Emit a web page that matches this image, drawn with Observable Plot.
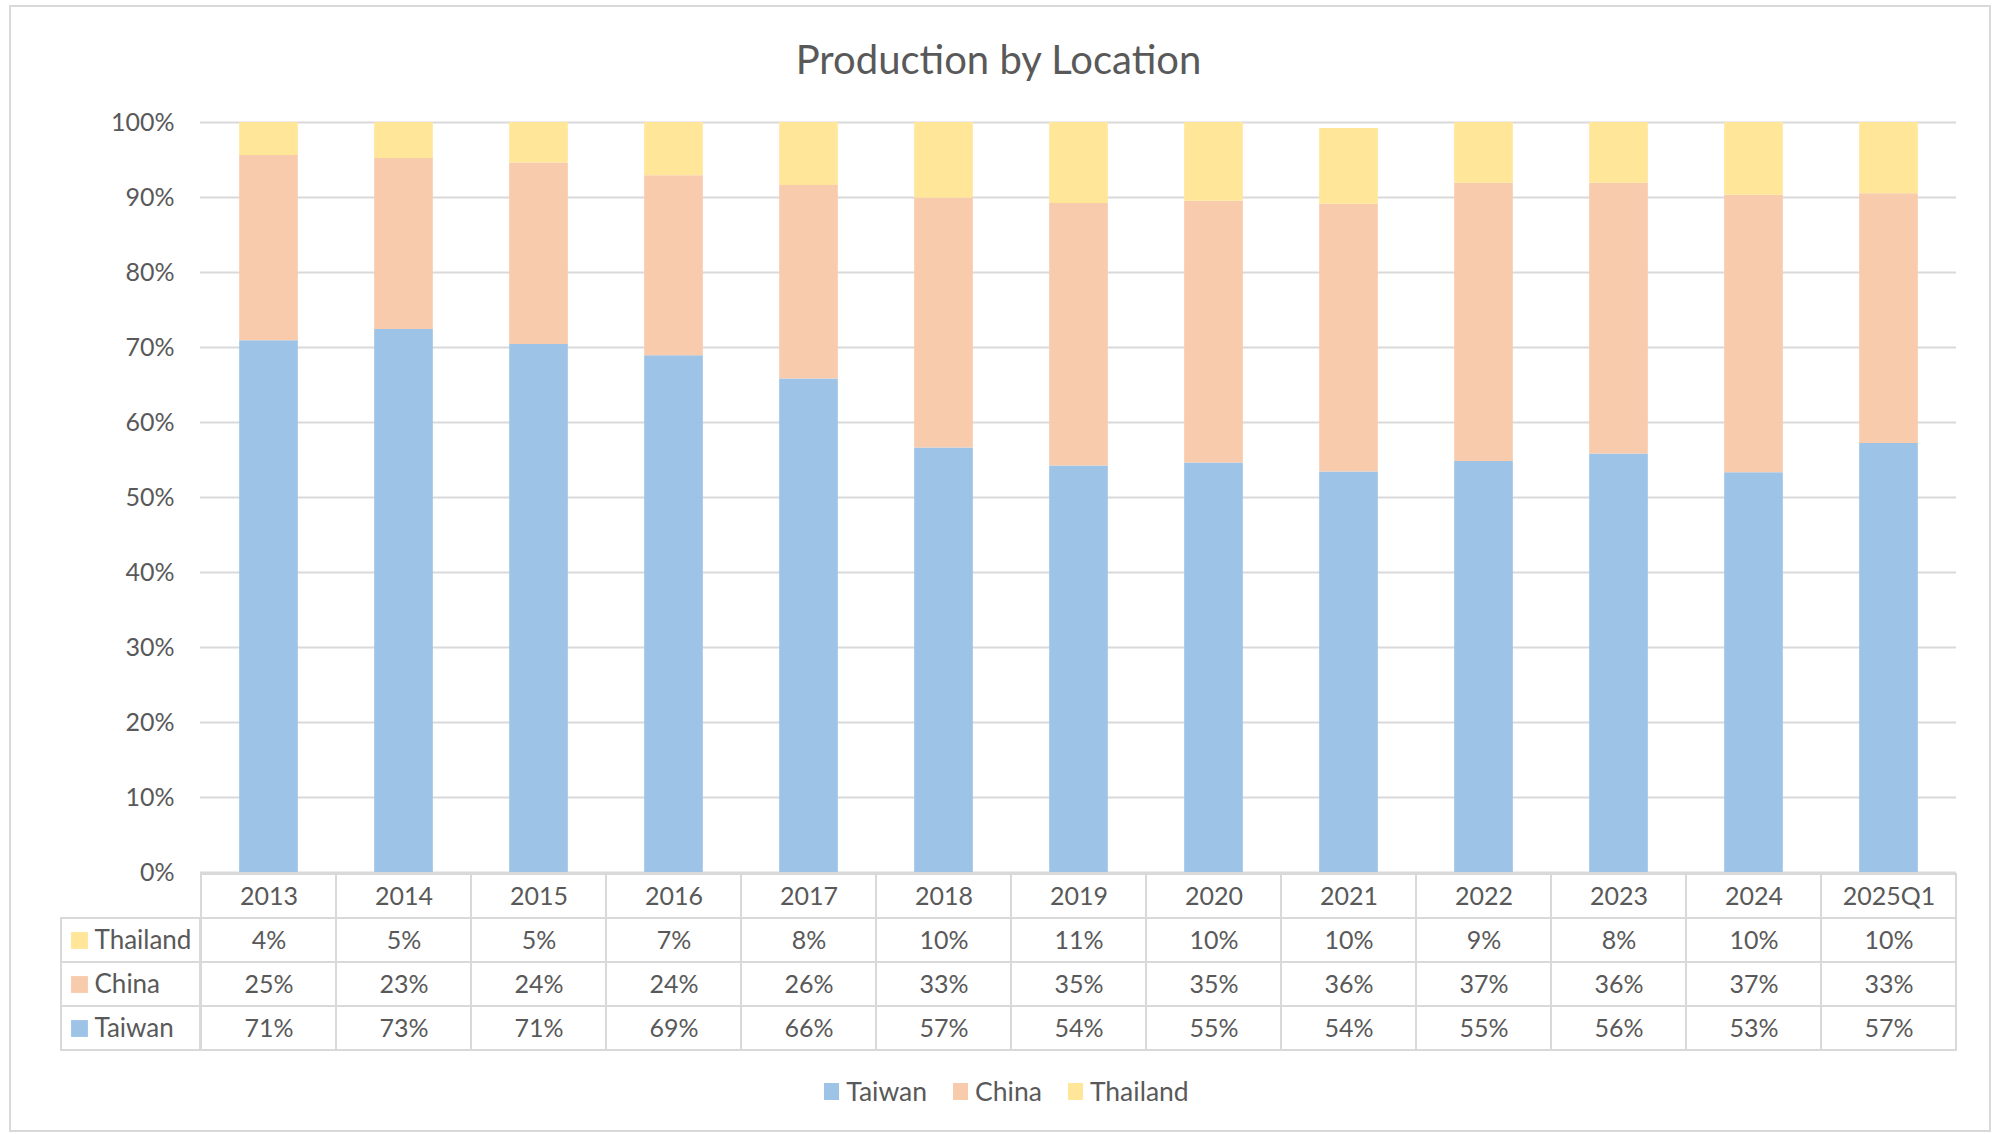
<!DOCTYPE html>
<html>
<head>
<meta charset="utf-8">
<script src="https://cdn.jsdelivr.net/npm/d3@7"></script>
<script src="https://cdn.jsdelivr.net/npm/@observablehq/plot@0.6"></script>
<style>
  html, body { margin: 0; padding: 0; background: #ffffff; }
  #chart { position: relative; width: 1997px; height: 1134px; font-family: Lato, "Open Sans", sans-serif; color: #595959; background: #fff; overflow: hidden; }
  #frame { position: absolute; left: 9px; top: 5px; width: 1982px; height: 1127px; border: 2px solid #D9D9D9; box-sizing: border-box; }
  #title { position: absolute; left: 0; top: 34px; width: 1997px; text-align: center; font-size: 40px; line-height: 50px; color: #595959; }
  .abs { position: absolute; }
  svg { overflow: visible; }
  #legend { position: absolute; left: 8px; top: 1074px; width: 1997px; display: flex; justify-content: center; align-items: center; font-size: 26.5px; line-height: 34px; color: #595959; }
  .item { display: flex; align-items: center; margin: 0 13px; }
  .sw { width: 15px; height: 17px; margin-right: 7px; display: inline-block; }
</style>
</head>
<body>
<div id="chart">
  <div id="frame"></div>
  <div id="title">Production by Location</div>
  <div id="bars" class="abs" style="left:0;top:0"></div>
  <div id="labels" class="abs" style="left:0;top:871px"></div>
  <div id="table" class="abs" style="left:0;top:871px"></div>
  <div id="legend"></div>
</div>
<script>
// ---- data ----
const categories = ["2013","2014","2015","2016","2017","2018","2019","2020","2021","2022","2023","2024","2025Q1"];
const seriesNames = ["Taiwan","China","Thailand"];
const seriesColors = ["#9DC3E6","#F8CBAD","#FFE699"];
// bar heights in percent (as drawn)
const taiwan   = [70.9, 72.4, 70.4, 68.9, 65.8, 56.6, 54.2, 54.6, 53.4, 54.8, 55.8, 53.3, 57.2];
const china    = [24.7, 22.8, 24.2, 24.0, 25.8, 33.3, 35.0, 34.9, 35.7, 37.1, 36.1, 37.0, 33.3];
const thailand = [ 4.4,  4.8,  5.4,  7.1,  8.4, 10.1, 10.8, 10.5, 10.1,  8.1,  8.1,  9.7,  9.5];
// data table labels (as printed)
const taiwanLabels   = ["71%","73%","71%","69%","66%","57%","54%","55%","54%","55%","56%","53%","57%"];
const chinaLabels    = ["25%","23%","24%","24%","26%","33%","35%","35%","36%","37%","36%","37%","33%"];
const thailandLabels = ["4%","5%","5%","7%","8%","10%","11%","10%","10%","9%","8%","10%","10%"];
const yTicks = [0, 0.1, 0.2, 0.3, 0.4, 0.5, 0.6, 0.7, 0.8, 0.9, 1.0];
const tableRows = ["header","Thailand","China","Taiwan"];

// ---- derived tables ----
const valuesBySeries = {Taiwan: taiwan, China: china, Thailand: thailand};
const labelsBySeries = {Taiwan: taiwanLabels, China: chinaLabels, Thailand: thailandLabels};
const colorOf = Object.fromEntries(seriesNames.map((s, i) => [s, seriesColors[i]]));
const barData = [];
categories.forEach((c, i) => {
  seriesNames.forEach(s => barData.push({cat: c, series: s, value: valuesBySeries[s][i] / 100}));
});
const cellData = [];
categories.forEach((c, i) => {
  cellData.push({cat: c, row: "header", text: c});
  ["Thailand","China","Taiwan"].forEach(s => cellData.push({cat: c, row: s, text: labelsBySeries[s][i]}));
});
const labelData = ["Thailand","China","Taiwan"].map(s => ({row: s, name: s, color: colorOf[s]}));

const FONT = "Lato, 'Open Sans', sans-serif";
const GRID = "#D9D9D9";
const TEXT = "#595959";

// ---- bars ----
const step = (1997 - 200 - 41) / categories.length;
const barW = step / 2.3; // Excel gap width 130%
const inset = (step - barW) / 2;

const bars = Plot.plot({
  width: 1997, height: 873,
  marginLeft: 200, marginRight: 41, marginTop: 122, marginBottom: 1,
  style: {fontFamily: FONT, fontSize: "25px", color: TEXT, background: "transparent", overflow: "visible"},
  x: {type: "band", domain: categories, padding: 0, axis: null},
  y: {domain: [0, 1], label: null},
  color: {domain: seriesNames, range: seriesColors},
  marks: [
    Plot.ruleY(yTicks, {stroke: GRID, strokeWidth: 2}),
    Plot.barY(barData, {x: "cat", y: "value", fill: "series", order: seriesNames, insetLeft: inset, insetRight: inset}),
    Plot.axisY({ticks: yTicks, tickFormat: d3.format(".0%"), tickSize: 0, tickPadding: 26, fontSize: 25, fill: TEXT, label: null})
  ]
});
document.getElementById("bars").appendChild(bars);

// ---- data table (year columns) ----
const table = Plot.plot({
  width: 1997, height: 181,
  marginLeft: 200, marginRight: 41, marginTop: 1, marginBottom: 1,
  style: {fontFamily: FONT, fontSize: "25px", color: TEXT, background: "transparent", overflow: "visible"},
  x: {type: "band", domain: categories, padding: 0, axis: null},
  y: {type: "band", domain: tableRows, padding: 0, axis: null},
  marks: [
    Plot.cell(cellData, {x: "cat", y: "row", fill: "white", stroke: GRID, strokeWidth: 2}),
    Plot.text(cellData, {x: "cat", y: "row", text: "text", fontSize: 25, fill: TEXT})
  ]
});
document.getElementById("table").appendChild(table);

// ---- data table (series label column) ----
const labels = Plot.plot({
  width: 201, height: 181,
  marginLeft: 61, marginRight: 1, marginTop: 1, marginBottom: 1,
  style: {fontFamily: FONT, fontSize: "25px", color: TEXT, background: "transparent", overflow: "visible"},
  y: {type: "band", domain: tableRows, padding: 0, axis: null},
  marks: [
    Plot.cell(labelData, {y: "row", fill: "white", stroke: GRID, strokeWidth: 2}),
    Plot.dot(labelData, {y: "row", frameAnchor: "left", dx: 18, symbol: "square", r: 9.5, fill: "color", stroke: null}),
    Plot.text(labelData, {y: "row", text: "name", frameAnchor: "left", dx: 33, textAnchor: "start", fontSize: 26, fill: TEXT})
  ]
});
document.getElementById("labels").appendChild(labels);

// ---- legend ----
const legend = document.getElementById("legend");
seriesNames.forEach((s, i) => {
  const item = document.createElement("div");
  item.className = "item";
  const sw = document.createElement("span");
  sw.className = "sw";
  sw.style.background = seriesColors[i];
  const t = document.createElement("span");
  t.textContent = s;
  item.appendChild(sw); item.appendChild(t);
  legend.appendChild(item);
});
</script>
</body>
</html>
